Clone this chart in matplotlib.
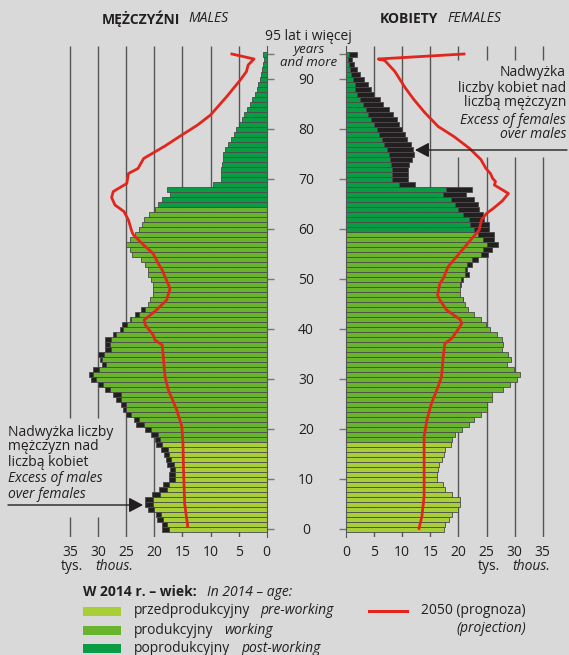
import numpy as np
import matplotlib
matplotlib.use('Agg')
import matplotlib.pyplot as plt
from matplotlib.patches import Rectangle
from matplotlib.lines import Line2D

plt.rcParams['font.family'] = ['Open Sans', 'DejaVu Sans']

# population 2014, thousands, ages 0..94 and 95 = "95 and more"
ages = np.arange(96)
males = [18.6, 18.7, 19.6, 19.7, 21.1, 21.6, 21.7, 20.4, 19.2, 18.4,
         17.3, 17.3, 17.2, 17.8, 17.9, 18.2, 18.8, 19.7, 19.9, 20.6,
         21.6, 23.3, 23.6, 25.1, 25.6, 25.9, 26.8, 27.4, 28.7, 30.0,
         31.2, 31.6, 30.9, 29.3, 29.7, 30.1, 28.7, 28.8, 28.7, 27.4,
         26.1, 25.7, 24.3, 23.5, 22.4, 21.2, 20.8, 20.2, 20.2, 20.3,
         20.5, 21.2, 21.1, 21.6, 22.4, 24.0, 24.4, 25.1, 24.4, 23.5,
         22.7, 22.1, 21.8, 20.9, 19.9, 19.4, 18.7, 17.2, 17.8, 9.5,
         8.2, 8.2, 8.1, 7.95, 7.8, 7.7, 7.35, 6.8, 6.35, 5.9,
         5.5, 4.9, 4.45, 4.0, 3.5, 3.0, 2.55, 2.0, 1.65, 1.55,
         1.2, 0.95, 0.77, 0.6, 0.4, 0.6]
females = [17.4, 17.7, 18.4, 18.8, 20.0, 20.2, 20.3, 18.9, 17.7, 17.3,
           16.25, 16.25, 16.3, 16.5, 17.0, 17.4, 17.6, 18.6, 18.9, 19.4,
           20.6, 21.8, 22.7, 24.1, 25.0, 25.0, 26.0, 26.0, 27.9, 29.1,
           30.4, 30.9, 29.9, 28.6, 29.3, 28.9, 27.7, 27.9, 27.7, 26.8,
           25.6, 24.85, 24.1, 22.8, 21.65, 21.2, 20.9, 20.2, 20.2, 20.4,
           20.9, 21.9, 21.5, 22.4, 23.5, 25.3, 26.0, 27.1, 26.3, 26.3,
           25.4, 25.4, 24.6, 24.4, 23.7, 23.4, 22.8, 21.35, 22.5, 12.3,
           10.97, 10.97, 11.09, 11.2, 11.7, 12.1, 11.86, 11.5, 10.8, 10.5,
           9.9, 9.5, 9.0, 8.3, 7.7, 6.5, 6.05, 5.0, 4.4, 3.97,
           3.2, 2.5, 1.96, 1.42, 1.0, 2.0]

# 2050 projection (red line), read as (age, thousands)
proj_m_age = [95, 94, 92.8, 91.5, 89.8, 86.5, 82.8, 80.8, 78.8, 76.6, 74.1, 72.1, 71.1,
              69.1, 67.5, 66.3, 64.8, 63.5, 61.8, 59.5, 58.8, 56.8, 55.1, 53.1, 51.8,
              50.5, 48.1, 45.8, 43.8, 41.8, 40.8, 38.8, 37.8, 36.8, 34.5, 30.5, 27.8,
              23.8, 20.5, 17.1, 11.8, 5.1, 0.5]
proj_m_val = [6.2, 2.25, 3.3, 3.6, 4.7, 7.1, 10.0, 12.3, 15.1, 18.1, 21.9, 22.9, 24.6,
              24.9, 27.3, 27.6, 27.0, 25.4, 24.6, 24.0, 23.7, 21.9, 20.2, 19.3, 18.6,
              18.1, 17.2, 17.8, 19.6, 21.8, 21.6, 20.2, 19.9, 18.6, 18.4, 18.1, 17.5,
              16.0, 15.1, 14.9, 14.8, 14.6, 14.05]
proj_f_age = [95, 94, 93.7, 91.5, 88.3, 86.0, 83.3, 80.5, 78.5, 76.1, 73.9, 72.1, 71.1,
              70.1, 69.5, 68.8, 67.1, 65.6, 64.2, 63.1, 61.8, 59.8, 58.1, 56.5, 54.5,
              52.5, 50.1, 49.1, 46.8, 45.8, 43.8, 41.9, 41.1, 39.5, 38.1, 37.1, 34.5,
              30.5, 28.5, 25.1, 21.8, 18.5, 11.8, 6.5, 2.5, 0.1]
proj_f_val = [21.0, 5.75, 6.9, 8.7, 10.5, 12.0, 14.0, 16.4, 19.2, 22.0, 24.0, 24.9, 25.7,
              26.1, 26.6, 26.4, 28.9, 27.8, 26.3, 25.0, 24.1, 23.7, 22.4, 21.2, 19.7,
              18.2, 17.3, 16.7, 16.3, 16.7, 17.9, 20.3, 20.6, 19.7, 18.8, 17.6, 17.3,
              17.0, 16.4, 15.2, 14.4, 13.9, 13.9, 13.9, 13.5, 13.0]

x_ticks = [0, 5, 10, 15, 20, 25, 30, 35]
age_labels = [0, 10, 20, 30, 40, 50, 60, 70, 80, 90]

W, H = 569, 655
BG = '#d9d9d9'
C_PRE = '#a9cf38'
C_WORK = '#69b42d'
C_POST = '#0a9b45'
C_EXCESS = '#231f20'
C_EDGE = '#4a4a4a'
C_RED = '#e2261d'
C_GRID = '#555555'
TXT = '#231f20'
PX = 5.62  # pixels per thousand


def fx(x):
    return x / W


def fy(y):
    return 1 - y / H


def colors_for(post_from):
    return [C_PRE if a <= 17 else (C_WORK if a < post_from else C_POST) for a in ages]


fig = plt.figure(figsize=(W / 100, H / 100), dpi=100, facecolor=BG)
top, bottom = 46, 537
axL = fig.add_axes([0, fy(bottom), 266.7 / W, (bottom - top) / H])
axR = fig.add_axes([fx(346), fy(bottom), (W - 346) / W, (bottom - top) / H])
ylim = (-1.6, 96.6)

m = np.array(males)
f = np.array(females)
common = np.minimum(m, f)

sides = [
    (axL, m, colors_for(65), (266.7 / PX, 0), lambda v: v >= 30, (2.4, 22.2), proj_m_val, proj_m_age),
    (axR, f, colors_for(60), (0, (W - 346) / PX), lambda v: v >= 20, (74.4, 93.8), proj_f_val, proj_f_age),
]
for ax, vals, cols, xlim, gapped, gap, pv, pa in sides:
    ax.set_facecolor('none')
    ax.set_xlim(*xlim)
    ax.set_ylim(*ylim)
    for v in x_ticks[1:]:
        if gapped(v):
            ax.vlines(v, ylim[0], gap[0], color=C_GRID, lw=1, zorder=1)
            ax.vlines(v, gap[1], ylim[1], color=C_GRID, lw=1, zorder=1)
        else:
            ax.vlines(v, ylim[0], ylim[1], color=C_GRID, lw=1, zorder=1)
    ax.barh(ages, common, height=1, color=cols, edgecolor=C_EDGE, linewidth=0.6, zorder=2)
    ex = vals > common + 0.05
    ax.barh(ages[ex], (vals - common)[ex], left=common[ex], height=1,
            color=C_EXCESS, edgecolor=C_EDGE, linewidth=0.6, zorder=2)
    ax.plot(pv, pa, color=C_RED, lw=2, zorder=4, solid_joinstyle='round')
    ax.set_xticks(x_ticks)
    ax.set_xticklabels([str(t) for t in x_ticks])
    ax.tick_params(axis='x', length=0, pad=6, labelsize=10, labelcolor=TXT)
    ax.set_yticks(age_labels + [95])
    for s in ['top', 'bottom']:
        ax.spines[s].set_visible(False)

axL.spines['left'].set_visible(False)
axR.spines['right'].set_visible(False)
axL.spines['right'].set_color(C_GRID)
axR.spines['left'].set_color(C_GRID)
axL.yaxis.tick_right()
axL.tick_params(axis='y', direction='out', length=5, width=1, color='#777777', labelright=False)
axR.tick_params(axis='y', direction='out', length=5, width=1, color='#777777', labelleft=False)

for a in age_labels:
    axR.text(-40 / PX, a, str(a), ha='center', va='center_baseline', fontsize=10, color=TXT,
             clip_on=False)

fig.text(fx(308), fy(36), '95 lat i więcej', ha='center', va='center', fontsize=10, color=TXT)
fig.text(fx(309), fy(50), 'years', ha='center', va='center', fontsize=9.5, style='italic',
         color=TXT, linespacing=0.9)
fig.text(fx(309), fy(63), 'and more', ha='center', va='center', fontsize=9.5, style='italic',
         color=TXT)

# titles
fig.text(fx(102), fy(19), 'MĘŻCZYŹNI', va='center', fontsize=10, weight='bold', color=TXT)
fig.text(fx(188), fy(19), 'MALES', va='center', fontsize=10, style='italic', color=TXT)
fig.text(fx(380), fy(19), 'KOBIETY', va='center', fontsize=10, weight='bold', color=TXT)
fig.text(fx(447), fy(19), 'FEMALES', va='center', fontsize=10, style='italic', color=TXT)

# annotations
left_note = [('Nadwyżka liczby', 'normal'), ('mężczyzn nad', 'normal'), ('liczbą kobiet', 'normal'),
             ('Excess of males', 'italic'), ('over females', 'italic')]
for i, (t, st) in enumerate(left_note):
    fig.text(fx(8), fy([432, 447, 463, 479, 494][i]), t, va='center', fontsize=10, style=st, color=TXT)
right_note = [('Nadwyżka', 'normal'), ('liczby kobiet nad', 'normal'), ('liczbą mężczyzn', 'normal'),
              ('Excess of females', 'italic'), ('over males', 'italic')]
for i, (t, st) in enumerate(right_note):
    fig.text(fx(566), fy([73, 88, 103, 120, 135][i]), t, ha='right', va='center', fontsize=10,
             style=st, color=TXT)

arrow = dict(arrowstyle='-|>,head_length=0.85,head_width=0.45', color=TXT, lw=1,
             shrinkA=0, shrinkB=0, mutation_scale=10)
axL.annotate('', xy=(143, H - 505), xycoords='figure pixels', xytext=(8, H - 505),
             textcoords='figure pixels', arrowprops=arrow, zorder=5)
axR.annotate('', xy=(415, H - 150), xycoords='figure pixels', xytext=(567, H - 150),
             textcoords='figure pixels', arrowprops=arrow, zorder=5)

# units
fig.text(fx(61), fy(567), 'tys.', va='center', fontsize=10, color=TXT)
fig.text(fx(95), fy(567), 'thous.', va='center', fontsize=10, style='italic', color=TXT)
fig.text(fx(478), fy(567), 'tys.', va='center', fontsize=10, color=TXT)
fig.text(fx(512), fy(567), 'thous.', va='center', fontsize=10, style='italic', color=TXT)

# legend
fig.text(fx(83), fy(592), 'W 2014 r. – wiek:', va='center', fontsize=10, weight='bold', color=TXT)
fig.text(fx(207), fy(592), 'In 2014 – age:', va='center', fontsize=10, style='italic', color=TXT)
legend_rows = [(611, C_PRE, 'przedprodukcyjny', 'pre-working', 260),
               (630, C_WORK, 'produkcyjny', 'working', 224),
               (648, C_POST, 'poprodukcyjny', 'post-working', 241)]
for y, c, pl, en, xen in legend_rows:
    fig.patches.append(Rectangle((fx(83), fy(y + 4.5)), 38 / W, 9 / H, transform=fig.transFigure,
                                 facecolor=c, edgecolor='none'))
    fig.text(fx(134), fy(y), pl, va='center', fontsize=10, color=TXT)
    fig.text(fx(xen), fy(y), en, va='center', fontsize=10, style='italic', color=TXT)
fig.lines.append(Line2D([fx(369), fx(407)], [fy(611), fy(611)], transform=fig.transFigure,
                        color=C_RED, lw=2.2))
fig.text(fx(421), fy(611), '2050 (prognoza)', va='center', fontsize=10, color=TXT)
fig.text(fx(456), fy(628), '(projection)', va='center', fontsize=10, style='italic', color=TXT)

fig.savefig('out.png', dpi=100, facecolor=BG)
